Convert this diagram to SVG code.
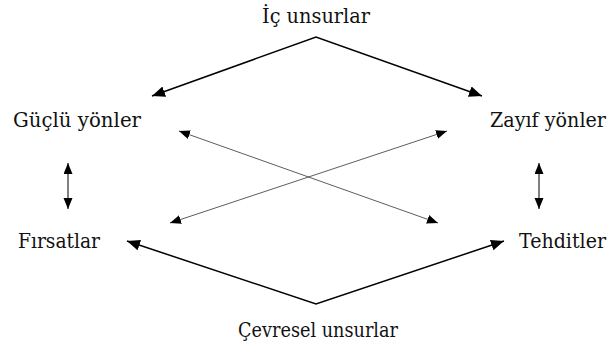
<svg xmlns="http://www.w3.org/2000/svg" width="612" height="355" viewBox="0 0 612 355">
<style>
.lbl{font-family:'DejaVu Serif','Liberation Serif',serif;font-size:20px;fill:#111}
.main{stroke:#000;stroke-width:1.5;fill:none}
.cross{stroke:#333;stroke-width:0.8;fill:none}
.vert{stroke:#000;stroke-width:1;fill:none}
</style>
<defs>
<marker id="ah" markerUnits="userSpaceOnUse" markerWidth="14" markerHeight="12" refX="13" refY="5.5" orient="auto-start-reverse" viewBox="0 0 14 12">
<path d="M0,0 L13,5.5 L0,11 z" fill="#000"/>
</marker>
<marker id="ahs" markerUnits="userSpaceOnUse" markerWidth="12" markerHeight="10" refX="11" refY="4.5" orient="auto-start-reverse" viewBox="0 0 12 10">
<path d="M0,0 L11,4.5 L0,9 z" fill="#000"/>
</marker>
</defs>
<g id="connectors">
<polyline class="main" points="152,96 316,37 482,96" marker-start="url(#ah)" marker-end="url(#ah)"/>
<polyline class="main" points="127,241 316,304 504,241" marker-start="url(#ah)" marker-end="url(#ah)"/>
<line class="cross" x1="179" y1="131" x2="438" y2="223" marker-start="url(#ahs)" marker-end="url(#ahs)"/>
<line class="cross" x1="447" y1="131" x2="170" y2="223" marker-start="url(#ahs)" marker-end="url(#ahs)"/>
<line class="vert" x1="68" y1="163" x2="68" y2="209" marker-start="url(#ahs)" marker-end="url(#ahs)"/>
<line class="vert" x1="539" y1="163" x2="539" y2="209" marker-start="url(#ahs)" marker-end="url(#ahs)"/>
</g>
<g id="ic"><text class="lbl" x="316" y="23" text-anchor="middle" textLength="108" lengthAdjust="spacingAndGlyphs">İç unsurlar</text></g>
<g id="guclu"><text class="lbl" x="13" y="127" textLength="128" lengthAdjust="spacingAndGlyphs">Güçlü yönler</text></g>
<g id="zayif"><text class="lbl" x="490" y="127" textLength="116" lengthAdjust="spacingAndGlyphs">Zayıf yönler</text></g>
<g id="firsat"><text class="lbl" x="18" y="248" textLength="82" lengthAdjust="spacingAndGlyphs">Fırsatlar</text></g>
<g id="tehdit"><text class="lbl" x="519" y="248" textLength="87" lengthAdjust="spacingAndGlyphs">Tehditler</text></g>
<g id="cevre"><text class="lbl" x="318" y="337" text-anchor="middle" textLength="160" lengthAdjust="spacingAndGlyphs">Çevresel unsurlar</text></g>
</svg>
